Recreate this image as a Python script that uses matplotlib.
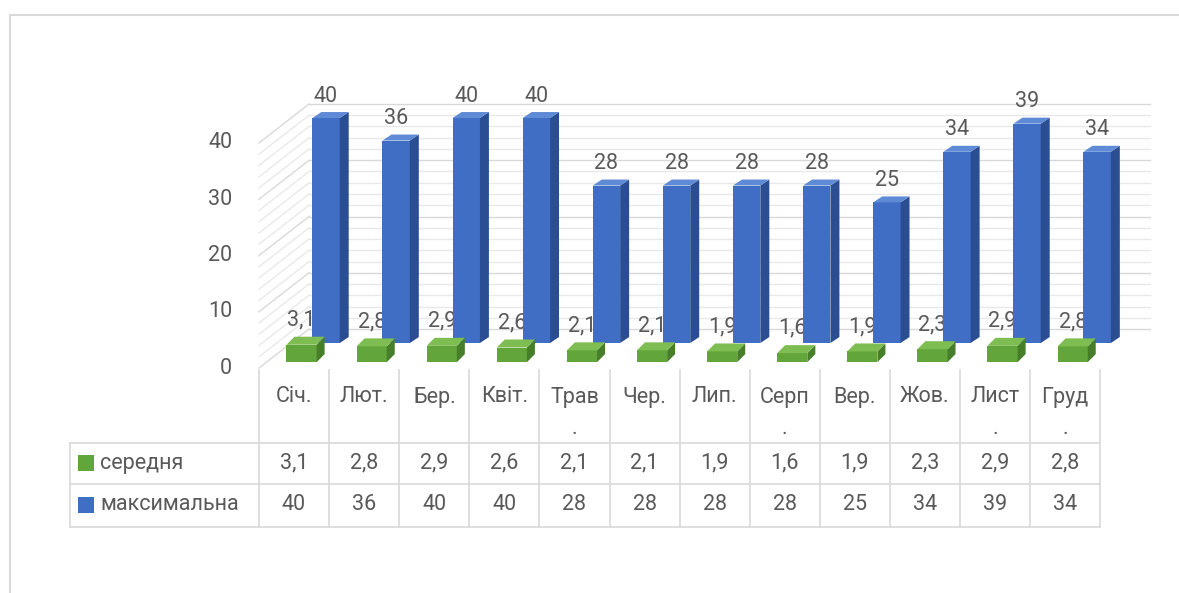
import matplotlib.pyplot as plt
from matplotlib.patches import Polygon, Rectangle

months = ["Січ.", "Лют.", "Бер.", "Квіт.", "Трав\n.", "Чер.", "Лип.", "Серп\n.",
          "Вер.", "Жов.", "Лист\n.", "Груд\n."]
avg_vals = [3.1, 2.8, 2.9, 2.6, 2.1, 2.1, 1.9, 1.6, 1.9, 2.3, 2.9, 2.8]
max_vals = [40, 36, 40, 40, 28, 28, 28, 28, 25, 34, 39, 34]
series_names = ["середня", "максимальна"]
y_ticks = [0, 10, 20, 30, 40]

W, H = 1179, 593
plt.rcParams['font.family'] = ['Roboto', 'DejaVu Sans']
TXT = '#595959'
FS = 15.5
GRID = '#D9D9D9'
GRID_MINOR = '#E9E9E9'
GREEN = ('#62A53A', '#467E2A', '#7EBD52')   # front, side, top
BLUE = ('#3F6EC4', '#2B4E92', '#5F8AD6')


def fmt(v):
    return f"{v:g}".replace(".", ",")


fig = plt.figure(figsize=(W / 100, H / 100), dpi=100)

# pixel layer: outer frame and data table
px = fig.add_axes([0, 0, 1, 1])
px.set_xlim(0, W)
px.set_ylim(H, 0)
px.axis('off')

# chart layer: x = month column, y = value
X0, COLW = 259, 70.1
Y0, PPU = 368, 5.625
ax = fig.add_axes([0, 0, 1, 1], zorder=2)
ax.set_xlim(-X0 / COLW, (W - X0) / COLW)
ax.set_ylim(-(H - Y0) / PPU, Y0 / PPU)
ax.axis('off')

n = len(months)
DX, DY = 50 / COLW, 39 / PPU   # oblique offset for full floor depth

# frame
px.plot([10, W], [15, 15], color=GRID, lw=1.5)
px.plot([10, 10], [15, H], color=GRID, lw=1.5)

# back wall and side wall grid
for v in range(0, max(y_ticks) + 1, 2):
    c = GRID if v % 10 == 0 else GRID_MINOR
    ax.plot([DX, n + DX], [v + DY, v + DY], color=c, lw=1, zorder=0.5)
    ax.plot([0, DX], [v, v + DY], color=c, lw=1, zorder=0.5)

for v in y_ticks:
    ax.text(-0.38, v, str(v), ha='right', va='center', fontsize=FS, color=TXT)


def box(xc, width, d0, ox, oy, value, cols, z):
    # ox, oy: depth offset of the bar itself, in data units
    x0 = xc - width / 2 + d0 * DX
    y0 = d0 * DY
    ax.add_patch(Rectangle((x0, y0), width, value, fc=cols[0], ec='none', zorder=z))
    ax.add_patch(Polygon([(x0 + width, y0), (x0 + width + ox, y0 + oy),
                          (x0 + width + ox, y0 + value + oy), (x0 + width, y0 + value)],
                         fc=cols[1], ec='none', zorder=z))
    ax.add_patch(Polygon([(x0, y0 + value), (x0 + ox, y0 + value + oy),
                          (x0 + width + ox, y0 + value + oy), (x0 + width, y0 + value)],
                         fc=cols[2], ec='none', zorder=z))
    return x0 + width / 2, y0 + value


for i in range(n):
    # back row: maximum
    cx, top = box(i + 0.5, 0.39, 0.64, 9 / COLW, 6 / PPU, max_vals[i], BLUE, 3)
    ax.text(cx, top + 3.9, fmt(max_vals[i]), ha='center', va='center',
            fontsize=FS, color=TXT, zorder=6)
    # front row: average
    cx, top = box(i + 0.5, 0.43, 0.15, 8 / COLW, 8 / PPU, avg_vals[i], GREEN, 4)
    ax.text(cx, top + 4.4, fmt(avg_vals[i]), ha='center', va='center',
            fontsize=FS, color=TXT, zorder=1)

# data table
TL = 70
right = X0 + n * COLW
for k in range(n + 1):
    px.plot([X0 + k * COLW] * 2, [370, 527], color=GRID, lw=1.2)
px.plot([TL, TL], [443, 527], color=GRID, lw=1.2)
for yy in (443, 484, 527):
    px.plot([TL, right], [yy, yy], color=GRID, lw=1.2)

for i, m in enumerate(months):
    xc = X0 + (i + 0.5) * COLW
    parts = m.split("\n")
    px.text(xc, 397, parts[0], ha='center', va='center', fontsize=FS, color=TXT)
    if len(parts) > 1:
        px.text(xc, 428, parts[1], ha='center', va='center', fontsize=FS, color=TXT)
    px.text(xc, 463, fmt(avg_vals[i]), ha='center', va='center', fontsize=FS, color=TXT)
    px.text(xc, 505, fmt(max_vals[i]), ha='center', va='center', fontsize=FS, color=TXT)

for name, col, yy in zip(series_names, (GREEN[0], BLUE[0]), (463, 505)):
    px.add_patch(Rectangle((78, yy - 8), 16, 16, fc=col, ec='none'))
    px.text(100, yy, name, ha='left', va='center', fontsize=FS, color=TXT)

fig.savefig("out.png", dpi=100)
